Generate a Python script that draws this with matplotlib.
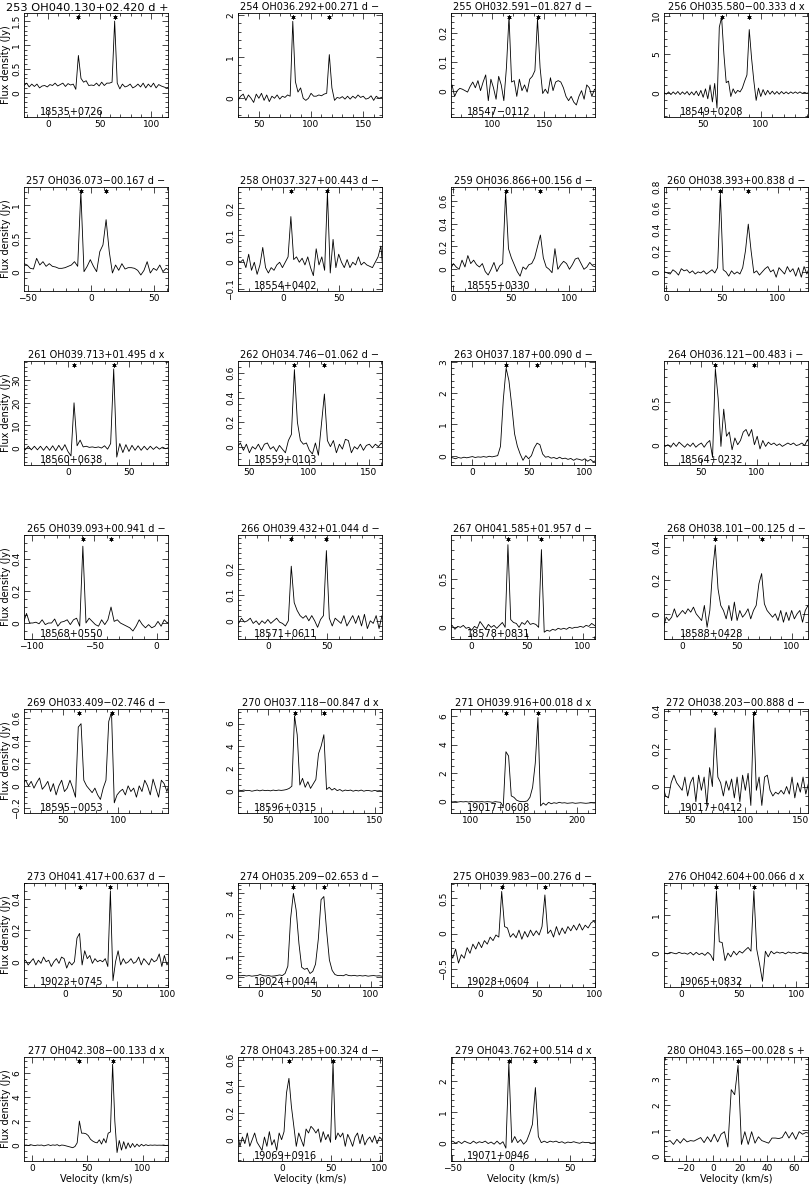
import numpy as np
import matplotlib
matplotlib.use('Agg')
import matplotlib.pyplot as plt
from matplotlib.ticker import AutoMinorLocator, MultipleLocator, FixedLocator, FuncFormatter
from matplotlib.transforms import blended_transform_factory

plt.rcParams['font.family'] = 'DejaVu Sans'

titles = ["253 OH040.130+02.420 d +", "254 OH036.292+00.271 d −",
          "255 OH032.591−01.827 d −", "256 OH035.580−00.333 d x",
          "257 OH036.073−00.167 d −", "258 OH037.327+00.443 d −",
          "259 OH036.866+00.156 d −", "260 OH038.393+00.838 d −",
          "261 OH039.713+01.495 d x", "262 OH034.746−01.062 d −",
          "263 OH037.187+00.090 d −", "264 OH036.121−00.483 i −",
          "265 OH039.093+00.941 d −", "266 OH039.432+01.044 d −",
          "267 OH041.585+01.957 d −", "268 OH038.101−00.125 d −",
          "269 OH033.409−02.746 d −", "270 OH037.118−00.847 d x",
          "271 OH039.916+00.018 d x", "272 OH038.203−00.888 d −",
          "273 OH041.417+00.637 d −", "274 OH035.209−02.653 d −",
          "275 OH039.983−00.276 d −", "276 OH042.604+00.066 d x",
          "277 OH042.308−00.133 d x", "278 OH043.285+00.324 d −",
          "279 OH043.762+00.514 d x", "280 OH043.165−00.028 s +"]

iras = ["18535+0726", "", "18547−0112", "18549+0208",
        "", "18554+0402", "18555+0330", "",
        "18560+0638", "18559+0103", "", "18564+0232",
        "18568+0550", "18571+0611", "18578+0831", "18588+0428",
        "18595−0053", "18596+0315", "19017+0608", "19017+0412",
        "19023+0745", "19024+0044", "19028+0604", "19065+0832",
        "", "19069+0916", "19071+0946", ""]

xlims = [(-23, 116), (30, 168), (60, 199), (16, 141),
         (-53, 61), (-40, 88), (-2, 122), (-2, 127),
         (-36, 82), (41, 161), (-19, 109), (17, 146),
         (-106, 9), (-26, 97), (-18, 111), (-17, 115),
         (15, 145), (22, 157), (82, 217), (26, 157),
         (-40, 100), (-20, 110), (-25, 100), (-15, 110),
         (-7, 123), (-45, 102), (-51, 71), (-36, 70)]
xsteps = [50] * 27 + [20]

ylims = [(-0.51, 1.67), (-0.45, 2.05), (-0.092, 0.271), (-3.16, 10.35),
         (-0.29, 1.27), (-0.107, 0.28), (-0.19, 0.72), (-0.18, 0.8),
         (-7.5, 38.5), (-0.15, 0.7), (-0.3, 3.03), (-0.24, 0.99),
         (-0.1, 0.55), (-0.07, 0.33), (-0.12, 0.95), (-0.15, 0.47),
         (-0.24, 0.68), (-2, 7.3), (-0.8, 6.5), (-0.14, 0.41),
         (-0.16, 0.5), (-0.5, 4.5), (-0.76, 0.72), (-0.9, 1.86),
         (-1.3, 7.3), (-0.16, 0.62), (-0.6, 2.8), (-0.2, 3.88)]

yticks = [[0, 0.5, 1, 1.5], [0, 1, 2], [0, 0.1, 0.2], [0, 5, 10],
          [0, 0.5, 1], [-0.1, 0, 0.1, 0.2], [0, 0.2, 0.4, 0.6], [0, 0.2, 0.4, 0.6, 0.8],
          [0, 10, 20, 30], [0, 0.2, 0.4, 0.6], [0, 1, 2, 3], [0, 0.5],
          [0, 0.2, 0.4], [0, 0.1, 0.2], [0, 0.5], [0, 0.2, 0.4],
          [-0.2, 0, 0.2, 0.4, 0.6], [0, 2, 4, 6], [0, 2, 4, 6], [0, 0.2, 0.4],
          [0, 0.2, 0.4], [0, 1, 2, 3, 4], [-0.5, 0, 0.5], [0, 1],
          [0, 2, 4, 6], [0, 0.2, 0.4, 0.6], [0, 1, 2], [0, 1, 2, 3]]

stars = [[29.5, 64.5], [82.5, 117.5], [116, 143.5], [66, 90],
         [-8, 12], [7, 39.5], [45, 75], [48.5, 73.5],
         [5, 37.5], [88, 113], [30, 57.5], [63, 98],
         [-59, -36.5], [19.5, 49.5], [33, 63], [30, 72.5],
         [65, 94], [75, 102.5], [133.5, 163.5], [72.5, 107.5],
         [14, 44], [30, 57.5], [19, 56.5], [30.5, 63],
         [43, 73], [7, 52], [-2, 20.5], [18.5]]

# first channel velocity and channel width (km/s)
v_start = [-23, 30, 58.5, 16, -55.5, -40.5, -2.5, -1.5,
           -37.5, 40.5, -20, 15.5, -106.5, -28, -19.5, -17.5,
           14, 22.5, 81, 25, -41, -20, -26, -14.5,
           -7, -45.5, -52, -36.5]
v_width = [2.5, 2.5, 2.5, 2, 2.5, 2.5, 2.5, 2.5,
           2.5, 2.5, 2.5, 2.5, 2.5, 2.5, 2.5, 2.5,
           2.5, 2.5, 2.5, 2.5, 2.5, 2.5, 2.5, 2.5,
           2, 2.5, 2.5, 2.5]

flux_253 = [0.15, 0.2, 0.12, 0.18, 0.13, 0.18, 0.1, 0.14, 0.15, 0.12, 0.17, 0.15, 0.2, 0.14,
            0.17, 0.2, 0.13, 0.19, 0.16, 0.18, 0.07, 0.78, 0.3, 0.22, 0.25, 0.15, 0.16, 0.15,
            0.2, 0.14, 0.22, 0.15, 0.2, 0.2, 0.22, 1.5, 0.2, 0.08, 0.18, 0.12, 0.14, 0.18,
            0.1, 0.13, 0.18, 0.12, 0.2, 0.1, 0.18, 0.12, 0.2, 0.1, 0.17, 0.14, 0.12, 0.1, 0.12]
flux_254 = [-0.05, 0.05, 0.1, -0.05, 0.08, 0.0, -0.1, 0.1, 0.0, 0.12, -0.05, 0.08, -0.08, 0.05,
            0.0, 0.08, -0.02, 0.05, 0.02, 0.08, 0.05, 1.85, 0.4, 0.15, 0.25, 0.0, -0.05, 0.0,
            0.12, 0.05, 0.05, 0.08, 0.06, 0.1, 0.12, 1.05, 0.25, -0.05, 0.02, 0.0, 0.04, -0.02,
            0.05, -0.02, 0.05, 0.0, 0.08, 0.02, 0.05, -0.02, 0.0, 0.06, -0.05, 0.05, 0.0, 0.02, 0.05]
flux_255 = [0.0, 0.02, -0.02, 0.0, 0.008, 0.005, 0.0, -0.005, 0.015, 0.03, 0.01, 0.035, 0.0,
            0.03, 0.055, -0.035, 0.04, 0.01, -0.03, 0.05, 0.02, -0.035, 0.08, 0.26, 0.03, 0.035,
            -0.02, 0.04, 0.0, 0.02, -0.005, 0.04, 0.05, 0.07, 0.25, 0.08, -0.01, 0.005, -0.01,
            0.045, 0.0, 0.03, 0.035, 0.03, 0.01, -0.02, -0.035, -0.02, -0.04, -0.05, -0.02, 0.0,
            -0.03, 0.02, 0.01, -0.02, 0.005, 0.0]
flux_256 = [0.0, -0.2, 0.1, -0.25, 0.1, -0.2, 0.15, -0.25, 0.1, -0.2, 0.15, -0.3, 0.1, -0.3,
            0.2, -0.4, 0.3, -0.6, 0.5, -0.8, 1.0, -1.2, 1.2, -2.0, 8.5, 9.8, 5.0, 1.3, 1.5, -0.5,
            0.5, -0.1, 0.3, 0.1, 0.6, 1.5, 2.3, 8.2, 4.5, 1.5, -1.0, 0.6, -0.5, 0.4, -0.3, 0.3,
            -0.2, 0.2, -0.2, 0.15, -0.2, 0.15, -0.15, 0.1, -0.15, 0.1, -0.1, 0.1, -0.1, 0.1,
            -0.1, 0.05, -0.1, 0.05]
flux_257 = [0.22, 0.12, 0.1, 0.05, 0.04, 0.2, 0.1, 0.15, 0.08, 0.12, 0.08, 0.07, 0.05, 0.05,
            0.06, 0.08, 0.1, 0.15, 0.08, 1.2, 0.0, 0.08, 0.18, 0.08, 0.0, 0.3, 0.4, 0.78, 0.3,
            -0.02, 0.1, 0.02, 0.12, 0.04, 0.06, 0.06, 0.05, 0.02, -0.05, 0.02, 0.15, -0.02, 0.05,
            0.02, 0.1, 0.0, 0.05, 0.02]
flux_258 = [0.01, 0.0, 0.01, -0.02, 0.03, -0.03, 0.0, -0.045, -0.01, 0.055, -0.02, -0.04, -0.02,
            -0.03, -0.01, 0.0, -0.02, 0.0, 0.02, 0.17, 0.01, 0.02, 0.0, 0.015, -0.01, 0.02, -0.02,
            -0.05, 0.05, -0.01, 0.02, -0.03, 0.26, -0.04, 0.085, -0.02, 0.03, 0.0, -0.02, 0.01,
            -0.02, 0.0, -0.01, 0.02, -0.01, 0.0, -0.01, -0.015, -0.02, 0.0, 0.02, 0.06, -0.06]
flux_259 = [0.0, 0.05, 0.02, 0.0, 0.08, 0.02, 0.12, 0.05, 0.08, 0.04, 0.02, 0.05, -0.02, -0.05,
            0.0, 0.06, -0.02, 0.03, 0.05, 0.67, 0.18, 0.1, 0.04, -0.02, -0.06, 0.02, 0.0, 0.04,
            0.05, 0.1, 0.2, 0.3, 0.1, 0.02, 0.0, -0.03, 0.18, 0.0, 0.04, 0.07, 0.05, 0.0, 0.04,
            0.09, 0.1, 0.05, 0.0, 0.02, 0.06, 0.03, 0.02]
flux_260 = [0.0, -0.01, -0.02, 0.02, 0.0, -0.03, 0.03, 0.01, 0.02, -0.01, 0.01, -0.02, 0.0,
            -0.01, 0.01, -0.02, 0.0, 0.02, -0.01, 0.04, 0.73, 0.02, 0.0, -0.04, 0.01, -0.02, 0.0,
            -0.02, 0.04, 0.2, 0.45, 0.2, -0.01, 0.01, -0.03, 0.0, 0.03, 0.05, 0.0, 0.02, -0.05,
            0.04, 0.01, -0.02, 0.05, 0.0, 0.03, -0.04, 0.04, -0.05, 0.05, -0.02, 0.05]
flux_261 = [0.5, -0.8, 0.8, -0.8, 0.8, -0.8, 0.8, -1.0, 0.8, -1.0, 1.0, -1.2, 1.2, -1.0, 1.5,
            -1.5, -3.5, 20.0, 1.0, 3.5, 0.5, 0.8, 0.3, 0.5, 0.2, 0.5, 0.0, 1.0, -0.5, 2.0, 35.0,
            -4.0, 2.0, -2.0, 1.5, -1.5, 1.2, -1.0, 1.0, -1.0, 0.8, -0.8, 0.8, -0.6, 0.6, -0.5,
            0.4, -0.3, 0.2]
flux_262 = [0.0, 0.03, -0.03, 0.02, -0.05, 0.0, -0.02, 0.02, -0.03, 0.02, 0.03, -0.02, 0.0,
            -0.04, 0.01, -0.02, -0.05, 0.05, 0.1, 0.63, 0.2, 0.05, 0.02, 0.03, -0.03, -0.06, 0.03,
            -0.07, 0.18, 0.43, 0.05, 0.0, 0.05, -0.05, 0.02, -0.02, 0.06, 0.05, -0.05, 0.0, -0.02,
            0.02, -0.03, 0.01, 0.02, -0.01, 0.02, 0.0, 0.03, -0.01]
flux_263 = [-0.05, -0.07, -0.1, -0.06, -0.08, -0.05, -0.07, -0.05, -0.03, -0.06, -0.04, -0.05,
            -0.03, -0.05, -0.02, -0.04, -0.02, 0.0, 0.3, 1.8, 2.8, 2.4, 1.6, 0.7, 0.3, 0.05, -0.15,
            0.0, -0.1, 0.0, 0.25, 0.4, 0.35, 0.05, -0.05, -0.03, -0.08, -0.06, -0.1, -0.05, -0.1,
            -0.08, -0.12, -0.09, -0.15, -0.1, -0.12, -0.15, -0.1, -0.18, -0.12, -0.2, -0.15]
flux_264 = [0.02, -0.02, 0.0, -0.03, 0.02, -0.02, 0.03, 0.0, -0.03, 0.01, -0.02, 0.02, -0.03,
            0.0, 0.02, -0.03, 0.02, 0.05, -0.15, 0.9, 0.55, -0.02, 0.42, 0.1, 0.15, -0.06, 0.08,
            0.0, 0.05, 0.15, 0.18, 0.1, 0.18, 0.0, 0.1, -0.05, 0.05, -0.02, 0.03, 0.0, 0.02,
            -0.01, 0.01, -0.02, 0.0, 0.02, 0.0, 0.02, -0.01, 0.0, 0.02, -0.01, 0.06, -0.02]
flux_265 = [0.0, 0.06, 0.0, 0.0, 0.005, -0.005, 0.02, -0.01, 0.0, 0.0, 0.025, -0.02, 0.005,
            0.01, 0.02, -0.01, 0.02, 0.03, -0.02, 0.48, 0.0, 0.03, 0.01, -0.01, -0.02, 0.02, -0.01,
            0.02, 0.1, 0.01, 0.02, 0.0, -0.01, -0.02, -0.03, -0.05, -0.02, 0.02, -0.01, -0.03,
            -0.01, -0.03, -0.02, 0.01, -0.02, 0.02, 0.0, 0.02]
flux_266 = [0.0, -0.01, 0.01, -0.005, 0.0, 0.01, -0.01, 0.0, -0.015, 0.0, -0.01, 0.005, -0.01,
            0.0, 0.01, -0.005, -0.01, -0.02, 0.0, 0.21, 0.07, 0.04, 0.02, 0.01, 0.02, 0.0, 0.02,
            0.0, -0.025, 0.005, 0.02, 0.27, 0.01, -0.02, 0.01, 0.0, -0.01, 0.02, -0.02, 0.0, 0.02,
            -0.01, 0.02, -0.02, 0.025, -0.03, 0.0, -0.01, 0.02, -0.03, 0.02]
flux_267 = [0.0, 0.02, -0.02, 0.01, 0.0, 0.02, -0.01, 0.0, -0.03, 0.01, -0.01, 0.06, 0.02,
            -0.02, 0.03, 0.0, 0.02, -0.01, 0.02, 0.05, 0.0, 0.85, 0.08, 0.05, 0.04, 0.0, 0.05,
            0.03, 0.07, 0.03, 0.04, 0.03, 0.0, 0.8, -0.05, -0.03, -0.04, -0.02, -0.03, -0.01,
            -0.02, -0.01, -0.02, 0.0, -0.01, 0.0, 0.0, 0.01, 0.0, 0.02, 0.01, 0.04, 0.02, 0.0]
flux_268 = [-0.08, -0.02, -0.04, -0.02, 0.03, -0.02, 0.0, 0.02, 0.0, 0.03, 0.01, 0.04, 0.0,
            -0.02, -0.04, 0.05, -0.08, 0.02, 0.25, 0.41, 0.15, 0.05, 0.02, -0.03, 0.05, -0.04,
            0.07, -0.04, 0.02, -0.02, 0.0, 0.03, -0.03, 0.02, 0.05, 0.18, 0.24, 0.06, 0.02, 0.0,
            -0.02, 0.0, -0.04, 0.02, -0.05, 0.01, -0.04, 0.02, -0.03, 0.0, 0.02, -0.05, 0.02,
            0.05, -0.02]
flux_269 = [0.02, 0.05, 0.0, 0.04, -0.02, 0.03, 0.07, -0.03, 0.0, 0.04, -0.05, 0.02, -0.08,
            0.0, 0.05, -0.05, -0.02, 0.05, -0.02, -0.1, 0.52, 0.55, 0.05, 0.0, -0.03, -0.06,
            -0.02, -0.08, -0.12, -0.02, 0.05, 0.57, 0.65, -0.15, -0.08, -0.05, -0.03, -0.08, 0.0,
            -0.05, -0.02, -0.1, 0.0, -0.05, 0.05, 0.0, -0.08, 0.06, -0.02, -0.1, 0.05, 0.02,
            -0.05, 0.03]
flux_270 = [0.05, 0.0, 0.05, 0.0, 0.02, -0.05, 0.0, 0.05, -0.02, 0.05, 0.0, 0.03, -0.02, 0.05,
            0.0, 0.05, 0.02, 0.05, 0.1, 0.2, 0.4, 6.7, 5.0, 0.5, 1.1, 0.3, 0.8, 0.2, 0.6, 1.0,
            3.3, 4.0, 5.0, 0.1, 0.3, 0.05, 0.2, 0.0, 0.1, -0.05, 0.05, 0.0, 0.05, -0.05, 0.03,
            -0.03, 0.05, -0.05, 0.02, 0.0, -0.05, 0.02, -0.03, 0.0, -0.05]
flux_271 = [0.0, -0.02, 0.0, -0.03, 0.0, -0.02, 0.0, -0.03, 0.01, -0.03, 0.0, -0.02, 0.0,
            -0.03, 0.0, -0.02, -0.05, 0.0, -0.03, -0.05, -0.35, 3.5, 3.2, 0.4, 0.3, 0.1, 0.02,
            0.0, 0.0, 0.05, 0.3, 1.0, 2.7, 5.9, -0.3, -0.1, -0.25, -0.05, -0.15, -0.08, -0.12,
            -0.05, -0.1, -0.08, -0.12, -0.1, -0.08, -0.12, -0.1, -0.08, -0.1, -0.12, -0.1, -0.08,
            -0.1, -0.09]
flux_272 = [0.0, -0.05, -0.06, 0.02, 0.06, 0.02, 0.0, -0.02, 0.05, -0.05, 0.02, 0.05, -0.08,
            0.06, -0.02, 0.05, -0.1, 0.1, 0.0, 0.31, 0.05, 0.02, -0.05, 0.03, -0.02, 0.04, -0.06,
            0.05, -0.08, 0.06, -0.02, 0.07, -0.1, 0.38, -0.02, 0.05, -0.1, 0.05, 0.06, -0.02,
            -0.05, -0.03, -0.04, -0.02, -0.04, 0.0, -0.04, 0.05, -0.06, 0.02, -0.03, 0.05, -0.04,
            0.02]
flux_273 = [0.0, 0.01, -0.02, 0.0, 0.02, -0.02, 0.01, -0.01, 0.03, 0.0, 0.01, -0.03, 0.0,
            0.02, -0.01, 0.03, 0.02, -0.04, 0.0, -0.02, 0.0, 0.15, 0.18, -0.02, 0.07, 0.02, 0.04,
            -0.01, 0.02, 0.0, 0.01, 0.0, 0.02, -0.03, 0.45, -0.12, 0.0, 0.07, -0.02, 0.02, -0.01,
            0.0, 0.02, -0.01, 0.0, 0.03, -0.02, 0.02, 0.0, -0.02, 0.02, 0.0, 0.01, 0.05, -0.03,
            0.04, -0.02, 0.01]
flux_274 = [0.05, 0.04, 0.06, 0.03, 0.05, 0.02, 0.04, 0.05, 0.1, 0.05, 0.03, 0.05, 0.02, 0.03,
            0.05, 0.08, 0.05, 0.15, 0.5, 2.8, 4.0, 3.2, 1.6, 0.45, 0.35, 0.4, 0.15, 0.25, 0.6,
            1.8, 3.7, 3.85, 2.2, 0.8, 0.3, 0.1, 0.05, 0.06, 0.04, 0.1, 0.05, 0.04, 0.06, 0.03,
            0.05, 0.03, 0.05, 0.02, 0.04, 0.05, 0.03, 0.04, 0.02]
flux_275 = [-0.25, -0.35, -0.22, -0.42, -0.3, -0.35, -0.2, -0.28, -0.15, -0.22, -0.12, -0.2,
            -0.1, -0.15, -0.05, -0.1, -0.02, -0.05, 0.6, 0.1, 0.08, -0.05, 0.0, -0.06, 0.05,
            -0.08, 0.03, -0.05, 0.05, -0.03, 0.04, -0.02, 0.1, 0.55, 0.0, 0.05, -0.05, 0.1,
            -0.02, 0.08, 0.0, 0.1, 0.04, 0.12, 0.05, 0.14, 0.05, 0.12, 0.08, 0.15, 0.18, 0.12]
flux_276 = [0.0, -0.02, 0.02, 0.0, -0.02, 0.02, -0.01, 0.0, -0.03, 0.02, -0.05, 0.02, -0.04,
            0.0, -0.06, 0.02, -0.05, -0.2, 1.65, 0.3, 0.28, -0.2, 0.0, -0.1, 0.05, -0.05, 0.05,
            0.0, 0.08, 0.15, 0.05, 1.65, 0.1, -0.3, -0.75, 0.05, -0.1, 0.05, -0.02, 0.03, 0.0,
            0.02, -0.02, 0.03, 0.0, 0.02, -0.01, 0.02, 0.0, 0.01, -0.02]
flux_277 = [0.0, 0.02, -0.02, 0.05, 0.0, -0.03, 0.02, 0.0, 0.02, -0.05, 0.0, 0.05, -0.02, 0.03,
            0.0, 0.05, -0.05, 0.02, 0.0, -0.05, -0.1, -0.15, -0.2, -0.1, 0.2, 2.0, 1.0, 1.0, 0.95,
            0.8, 0.5, 0.35, 0.25, 0.2, 0.45, 0.1, 0.55, 0.2, 1.0, 1.1, 6.7, 2.0, -0.6, 0.4, -0.4,
            0.3, -0.3, 0.2, -0.2, 0.15, -0.15, 0.1, -0.1, 0.08, -0.05, 0.05, -0.02, 0.02, 0.0,
            0.02, 0.0, 0.01, 0.0, 0.02, -0.02, 0.0]
flux_278 = [0.05, -0.05, 0.02, -0.03, 0.05, -0.05, 0.0, 0.05, -0.02, -0.05, -0.08, 0.02, -0.05,
            0.06, -0.04, 0.0, -0.08, 0.05, 0.0, 0.06, 0.35, 0.46, 0.25, 0.1, -0.05, 0.05, 0.0,
            -0.05, 0.08, 0.05, 0.1, 0.08, 0.05, 0.08, -0.02, 0.06, 0.0, 0.04, -0.02, 0.58, 0.0,
            0.05, 0.02, 0.05, -0.05, 0.04, 0.0, -0.05, 0.02, 0.05, -0.03, 0.04, -0.04, 0.0, 0.02,
            -0.02, 0.03, -0.03, 0.02, 0.0]
flux_279 = [0.0, 0.05, -0.02, 0.04, -0.03, 0.05, 0.0, -0.03, 0.05, -0.02, 0.03, 0.0, 0.05,
            -0.03, 0.02, -0.05, 0.05, -0.05, 0.03, -0.18, 2.6, 0.0, 0.2, 0.0, 0.1, -0.05, 0.05,
            0.3, 0.6, 1.8, 0.2, 0.0, 0.05, 0.0, 0.05, 0.02, 0.05, 0.0, 0.03, -0.02, 0.02, 0.0,
            0.03, 0.0, -0.02, 0.02, 0.0, 0.01, -0.02, 0.0, 0.02]
flux_280 = [0.6, 0.55, 0.6, 0.45, 0.65, 0.5, 0.68, 0.55, 0.6, 0.58, 0.65, 0.72, 0.52, 0.75,
            0.55, 0.85, 0.55, 0.85, 0.95, 0.35, 2.6, 2.4, 3.55, 0.45, 0.95, 0.45, 0.95, 0.5,
            0.75, 0.6, 0.55, 0.5, 0.7, 0.7, 0.68, 0.72, 0.95, 0.7, 0.92, 0.65, 0.95, 0.85, 0.92,
            0.88]

fluxes = [flux_253, flux_254, flux_255, flux_256, flux_257, flux_258, flux_259,
          flux_260, flux_261, flux_262, flux_263, flux_264, flux_265, flux_266,
          flux_267, flux_268, flux_269, flux_270, flux_271, flux_272, flux_273,
          flux_274, flux_275, flux_276, flux_277, flux_278, flux_279, flux_280]


def fmt(val, pos):
    return ('%g' % val).replace('-', '\u2212')


W, H = 811, 1185
fig = plt.figure(figsize=(W / 100, H / 100), dpi=100)
col_left = [24, 238, 451, 664]

for i in range(28):
    r, c = divmod(i, 4)
    top = 13 + 174 * r
    ax = fig.add_axes([col_left[c] / W, 1 - (top + 104) / H, 144 / W, 104 / H])

    v = v_start[i] + v_width[i] * np.arange(len(fluxes[i]))
    ax.plot(v, fluxes[i], color='black', lw=0.6)
    ax.set_xlim(*xlims[i])
    ax.set_ylim(*ylims[i])

    ax.xaxis.set_major_locator(MultipleLocator(xsteps[i]))
    ax.yaxis.set_major_locator(FixedLocator(yticks[i]))
    ax.xaxis.set_minor_locator(AutoMinorLocator())
    ax.yaxis.set_minor_locator(AutoMinorLocator())
    ax.xaxis.set_major_formatter(FuncFormatter(fmt))
    ax.yaxis.set_major_formatter(FuncFormatter(fmt))
    ax.tick_params(which='both', direction='in', top=True, right=True,
                   width=0.5, labelsize=6.5, pad=2)
    ax.tick_params(which='major', length=4)
    ax.tick_params(which='minor', length=2)
    ax.tick_params(axis='y', labelrotation=90)
    for lab in ax.get_yticklabels():
        lab.set_va('center')
    for sp in ax.spines.values():
        sp.set_linewidth(0.6)

    if i == 0:
        # the first panel's header is printed a little larger, flush right
        ax.set_title(titles[i], fontsize=8.2, pad=1.5, loc='right')
    else:
        ax.set_title(titles[i], fontsize=7, pad=2)

    trans = blended_transform_factory(ax.transData, ax.transAxes)
    ax.plot(stars[i], [0.965] * len(stars[i]), ls='none', marker=(6, 2, 0),
            ms=3, mew=0.5, color='black', transform=trans)

    if iras[i]:
        ax.text(0.11, 0.0, iras[i], transform=ax.transAxes, fontsize=7,
                ha='left', va='bottom')

    if c == 0:
        ax.set_ylabel('Flux density (Jy)', fontsize=7, labelpad=1)
    if r == 6:
        ax.set_xlabel('Velocity (km/s)', fontsize=7, labelpad=1)

fig.savefig('out.png', dpi=100)
